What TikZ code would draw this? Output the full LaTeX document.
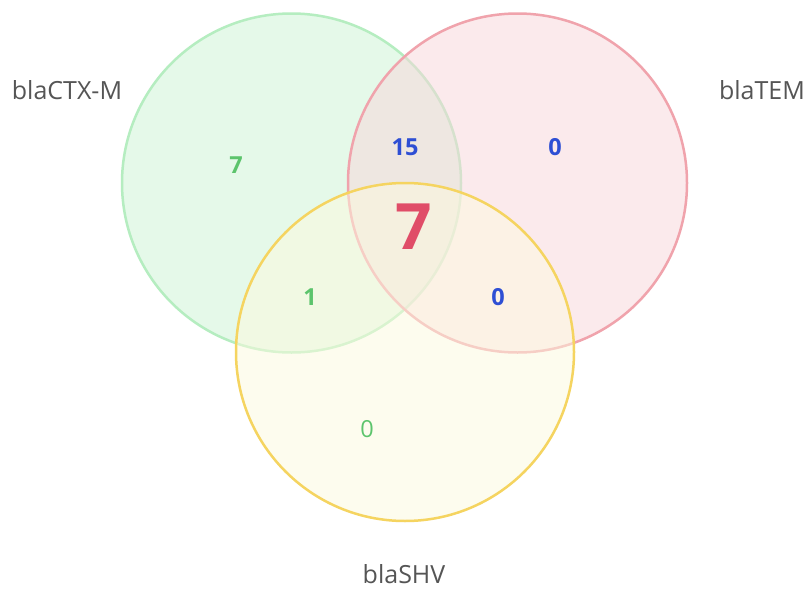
\documentclass[tikz,border=0pt]{standalone}
\usepackage{fontspec}
\setmainfont{Open Sans}
\definecolor{gstroke}{HTML}{B5EDC0}
\definecolor{gfill}{HTML}{CCF5D4}
\definecolor{rstroke}{HTML}{F0A3AC}
\definecolor{rfill}{HTML}{F8D6DB}
\definecolor{ystroke}{HTML}{F5D460}
\definecolor{yfill}{HTML}{FDFADF}
\definecolor{lbl}{HTML}{555555}
\definecolor{numg}{HTML}{5CC46C}
\definecolor{numb}{HTML}{2E4FD4}
\definecolor{numr}{HTML}{E04D68}
\begin{document}
\begin{tikzpicture}[x=1pt,y=-1pt,
  setlabel/.style={text=lbl,font=\fontsize{25}{28}\selectfont,inner sep=0pt},
  num/.style={font=\bfseries\fontsize{23.5}{26}\selectfont},
  circ/.style={line width=2.5pt,fill opacity=0.5}]
\useasboundingbox[fill=white] (0,0) rectangle (806,589);
\draw[circ,draw=gstroke,fill=gfill] (291.5,183) circle (169.5);
\draw[circ,draw=rstroke,fill=rfill] (517.5,183) circle (169.5);
\draw[circ,draw=ystroke,fill=yfill] (405,352) circle (169);
\node[setlabel] (lA) at (67,90) {blaCTX-M};
\node[setlabel] (lB) at (762,90) {blaTEM};
\node[setlabel] (lC) at (404,574) {blaSHV};
\node[num,text=numg] (nA) at (236,165) {7};
\node[num,text=numb] (nAB) at (405,147) {15};
\node[num,text=numb] (nB) at (555,147) {0};
\node[text=numr,font=\bfseries\fontsize{64}{64}\selectfont] (nABC) at (414,227) {7};
\node[num,text=numg] (nAC) at (310,297) {1};
\node[num,text=numb] (nBC) at (498,297) {0};
\node[num,text=numg,font=\fontsize{23.5}{26}\selectfont] (nC) at (367,429) {0};
\end{tikzpicture}
\end{document}
